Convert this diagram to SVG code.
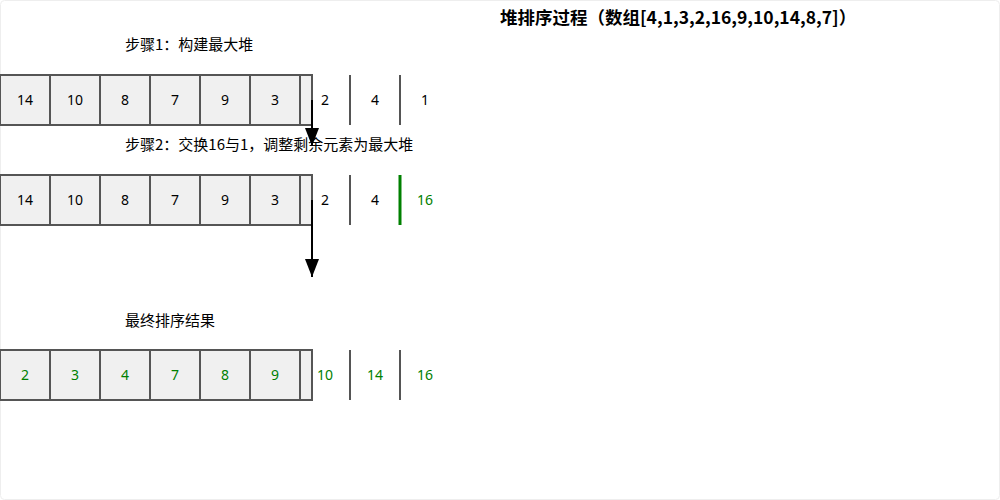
<svg xmlns="http://www.w3.org/2000/svg" width="1000" height="500" viewBox="0 0 1000 500">
<defs>
<style>
.t{font-family:"Noto Sans CJK SC","Noto Sans",sans-serif;font-size:15px;fill:#000}
.n{font-family:"Noto Sans","Noto Sans CJK SC",sans-serif;font-size:14px;text-anchor:middle;fill:#000}
.g{fill:#008000}
.c{fill:#f0f0f0;stroke:#555;stroke-width:2}
.v{stroke:#555;stroke-width:2}
.gv{stroke:#008000;stroke-width:3}
.title{font-family:"Noto Sans CJK SC",sans-serif;font-size:17.5px;font-weight:bold;fill:#000}
.a{stroke:#000;stroke-width:2;fill:none}
</style>
<marker id="arr" viewBox="0 0 18 14" refX="18" refY="7" markerWidth="18" markerHeight="14" orient="auto" markerUnits="userSpaceOnUse">
<path d="M0,0 L18,7 L0,14 Z" fill="#000"/>
</marker>
</defs>
<rect x="0.5" y="0.5" width="999" height="499" rx="4" fill="#fff" stroke="#eee"/>
<text class="title" x="500" y="24">堆排序过程（数组[4,1,3,2,16,9,10,14,8,7]）</text>
<g id="label1"><text class="t" x="125" y="50">步骤1：构建最大堆</text></g>
<g id="row1">
<rect class="c" x="0" y="75" width="50" height="50"/><text class="n" x="25" y="105">14</text>
<rect class="c" x="50" y="75" width="50" height="50"/><text class="n" x="75" y="105">10</text>
<rect class="c" x="100" y="75" width="50" height="50"/><text class="n" x="125" y="105">8</text>
<rect class="c" x="150" y="75" width="50" height="50"/><text class="n" x="175" y="105">7</text>
<rect class="c" x="200" y="75" width="50" height="50"/><text class="n" x="225" y="105">9</text>
<rect class="c" x="250" y="75" width="50" height="50"/><text class="n" x="275" y="105">3</text>
<rect class="c" x="300" y="75" width="12" height="50"/><text class="n" x="325" y="105">2</text>
<line class="v" x1="350" y1="75" x2="350" y2="125"/><text class="n" x="375" y="105">4</text>
<line class="v" x1="400" y1="75" x2="400" y2="125"/><text class="n" x="425" y="105">1</text>
</g>
<g id="label2"><text class="t" x="125" y="150">步骤2：交换16与1，调整剩余元素为最大堆</text></g>
<g id="row2">
<rect class="c" x="0" y="175" width="50" height="50"/><text class="n" x="25" y="205">14</text>
<rect class="c" x="50" y="175" width="50" height="50"/><text class="n" x="75" y="205">10</text>
<rect class="c" x="100" y="175" width="50" height="50"/><text class="n" x="125" y="205">8</text>
<rect class="c" x="150" y="175" width="50" height="50"/><text class="n" x="175" y="205">7</text>
<rect class="c" x="200" y="175" width="50" height="50"/><text class="n" x="225" y="205">9</text>
<rect class="c" x="250" y="175" width="50" height="50"/><text class="n" x="275" y="205">3</text>
<rect class="c" x="300" y="175" width="12" height="50"/><text class="n" x="325" y="205">2</text>
<line class="v" x1="350" y1="175" x2="350" y2="225"/><text class="n" x="375" y="205">4</text>
<line class="gv" x1="400" y1="175" x2="400" y2="225"/><text class="n g" x="425" y="205">16</text>
</g>
<g id="label3"><text class="t" x="125" y="326">最终排序结果</text></g>
<g id="row3">
<rect class="c" x="0" y="350" width="50" height="50"/><text class="n g" x="25" y="380">2</text>
<rect class="c" x="50" y="350" width="50" height="50"/><text class="n g" x="75" y="380">3</text>
<rect class="c" x="100" y="350" width="50" height="50"/><text class="n g" x="125" y="380">4</text>
<rect class="c" x="150" y="350" width="50" height="50"/><text class="n g" x="175" y="380">7</text>
<rect class="c" x="200" y="350" width="50" height="50"/><text class="n g" x="225" y="380">8</text>
<rect class="c" x="250" y="350" width="50" height="50"/><text class="n g" x="275" y="380">9</text>
<rect class="c" x="300" y="350" width="12" height="50"/><text class="n g" x="325" y="380">10</text>
<line class="v" x1="350" y1="350" x2="350" y2="400"/><text class="n g" x="375" y="380">14</text>
<line class="v" x1="400" y1="350" x2="400" y2="400"/><text class="n g" x="425" y="380">16</text>
</g>
<g id="connectors">
<line class="a" x1="312" y1="100" x2="312" y2="146" marker-end="url(#arr)"/>
<line class="a" x1="312" y1="200" x2="312" y2="277" marker-end="url(#arr)"/>
</g>
</svg>
